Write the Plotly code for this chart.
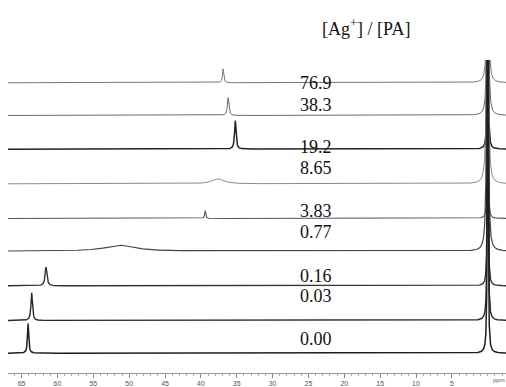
import numpy as np
import plotly.graph_objects as go

# Ratio labels [Ag+]/[PA], top to bottom
ratios = ["76.9", "38.3", "19.2", "8.65", "3.83", "0.77", "0.16", "0.03", "0.00"]
# Baseline offsets of each stacked spectrum (vertical units)
baselines = [293, 260, 226, 191, 156, 123, 88, 53, 20]
# Label vertical positions
label_y = [293, 271, 228, 207, 164, 142, 98, 78, 34]
# Secondary (shifting) peak: position (ppm), height, half-width (ppm)
peak_pos = [36.9, 36.2, 35.2, 37.6, 39.4, 51.3, 61.6, 63.6, 64.1]
peak_h = [14, 18, 29, 5, 8, 6, 19, 28, 30]
peak_w = [0.10, 0.12, 0.12, 1.0, 0.08, 2.5, 0.15, 0.12, 0.10]
# Main reference peak near 0 ppm
main_pos = [0.0, 0.0, 0.0, 0.05, 0.0, 0.05, 0.0, 0.0, 0.0]
main_h = [400, 400, 400, 400, 400, 400, 400, 400, 400]
main_w = [0.08, 0.08, 0.05, 0.10, 0.04, 0.10, 0.05, 0.06, 0.06]
line_colors = ["#777777", "#6a6a6a", "#222222", "#8a8a8a", "#555555",
               "#444444", "#333333", "#2a2a2a", "#1e1e1e"]
line_widths = [1.0, 1.0, 1.5, 1.0, 1.1, 1.2, 1.4, 1.4, 1.5]

tick_vals = [65, 60, 55, 50, 45, 40, 35, 30, 25, 20, 15, 10, 5]
tick_text = ["65", "60", "55", "50", "45", "40", "35", "30", "25", "20", "15", "10", "5"]

x_lo, x_hi = -2.55, 66.9
x = np.linspace(x_hi, x_lo, 9000)


def lorentz(xv, c, h, w):
    return h * w * w / ((xv - c) ** 2 + w * w)


fig = go.Figure()
for i in range(len(ratios)):
    y = (baselines[i]
         + lorentz(x, peak_pos[i], peak_h[i], peak_w[i])
         + lorentz(x, main_pos[i], main_h[i], main_w[i]))
    fig.add_trace(go.Scatter(x=x, y=y, mode="lines",
                             line=dict(color=line_colors[i], width=line_widths[i]),
                             hoverinfo="skip", showlegend=False))
    fig.add_annotation(x=23.9, y=label_y[i], text=ratios[i], showarrow=False,
                       xref="x", yref="y", yanchor="middle",
                       font=dict(family="Liberation Serif", size=18, color="#111111"))

fig.add_annotation(x=17.0, y=1.104, xref="x", yref="paper", yanchor="middle",
                   text="[Ag<sup>+</sup>] / [PA]", showarrow=False,
                   font=dict(family="Liberation Serif", size=18, color="#111111"))
fig.add_annotation(x=-1.6, y=-0.022, xref="x", yref="paper", text="ppm",
                   showarrow=False, yanchor="middle",
                   font=dict(family="Liberation Sans", size=6, color="#555555"))

fig.update_layout(
    width=506, height=387,
    margin=dict(l=8, r=0, t=60, b=11),
    paper_bgcolor="white", plot_bgcolor="white",
    xaxis=dict(range=[x_hi, x_lo], showgrid=False, zeroline=False,
               showline=True, linecolor="#999999", linewidth=1,
               ticks="outside", ticklen=4, tickcolor="#888888",
               tickvals=tick_vals, ticktext=tick_text,
               tickfont=dict(family="Liberation Sans", size=7, color="#555555"),
               minor=dict(dtick=1, ticks="outside", ticklen=2, tickcolor="#aaaaaa"),
               fixedrange=True),
    yaxis=dict(range=[0, 316], visible=False, fixedrange=True),
)

fig.write_html("out.html")
